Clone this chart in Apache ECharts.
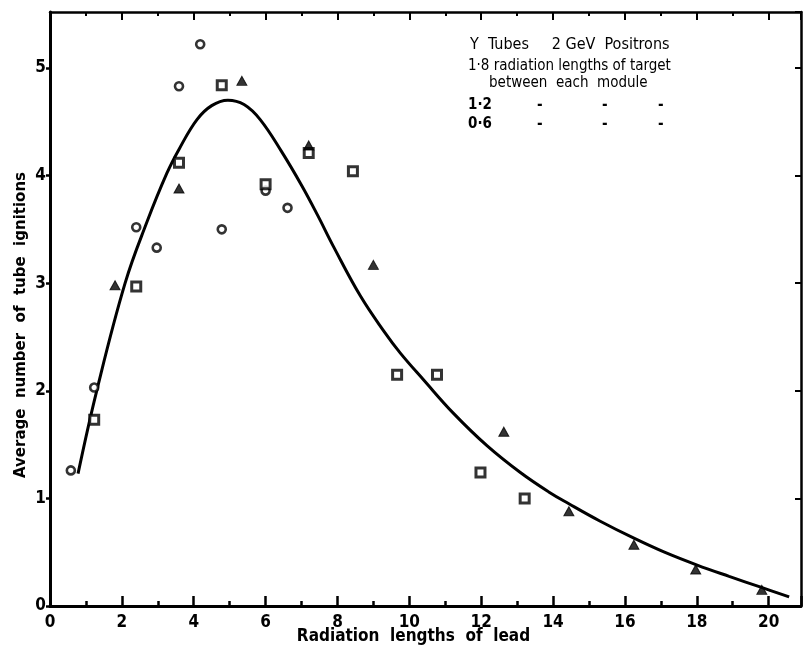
<!DOCTYPE html>
<html>
<head>
<meta charset="utf-8">
<script src="https://cdn.jsdelivr.net/npm/echarts@6/dist/echarts.min.js"></script>
<style>
  html, body { margin: 0; padding: 0; background: #fff; }
  #chart { width: 805px; height: 659px; }
</style>
</head>
<body>
<div id="chart"></div>
<script>
// Tube ignitions vs. lead depth for three target thicknesses between modules
const target18 = [ // 1·8 radiation lengths (circles)
  [0.58, 1.26], [1.23, 2.03], [2.40, 3.52], [2.97, 3.33], [3.59, 4.83],
  [4.18, 5.22], [4.78, 3.50], [6.00, 3.86], [6.61, 3.70]
];
const target12 = [ // 1·2 radiation lengths (squares)
  [1.23, 1.73], [2.40, 2.97], [3.59, 4.12], [4.78, 4.84], [6.00, 3.92],
  [7.20, 4.21], [8.43, 4.04], [9.66, 2.15], [10.77, 2.15], [11.98, 1.24],
  [13.21, 1.00]
];
const target06 = [ // 0·6 radiation lengths (triangles)
  [1.81, 2.98], [3.59, 3.88], [5.34, 4.88], [7.20, 4.28], [9.00, 3.17],
  [12.63, 1.62], [14.44, 0.88], [16.25, 0.57], [17.97, 0.34], [19.81, 0.15]
];
// Hand-fitted shower curve
const fitCurve = [
  [0.78, 1.23], [1.30, 2.00], [2.09, 3.00], [2.70, 3.57], [3.25, 4.02],
  [3.60, 4.25], [4.09, 4.52], [4.50, 4.65], [4.95, 4.70], [5.40, 4.66],
  [5.85, 4.52], [6.45, 4.22], [7.00, 3.91], [7.45, 3.63], [7.89, 3.34],
  [8.64, 2.88], [9.30, 2.55], [9.75, 2.35], [10.40, 2.10], [11.23, 1.79],
  [12.16, 1.49], [13.09, 1.24], [13.88, 1.06], [14.44, 0.95], [15.30, 0.79],
  [16.25, 0.63], [17.10, 0.50], [18.01, 0.38], [18.90, 0.275], [19.78, 0.175],
  [20.57, 0.085]
];
const xTicks = [0, 2, 4, 6, 8, 10, 12, 14, 16, 18, 20];
const yTicks = [0, 1, 2, 3, 4, 5];
const legendLines = [
  'Y  Tubes     2 GeV  Positrons',
  '1·8 radiation lengths of target',
  'between  each  module',
  '1·2',
  '0·6'
];

const COND = "'DejaVu Sans Condensed', 'DejaVu Sans', sans-serif";
const WIDE = "'DejaVu Sans', sans-serif";
const ink = '#000';

const chart = echarts.init(document.getElementById('chart'), null, { renderer: 'canvas' });

const labelStyle = { color: ink, fontFamily: COND, fontWeight: 'bold', fontSize: 17 };

const legendText = (text, left, top, font) => ({
  type: 'text', left, top,
  style: { text, fill: ink, font }
});

chart.setOption({
  animation: false,
  backgroundColor: '#fff',
  grid: { left: 50, right: 4, top: 12, bottom: 53, containLabel: false },
  xAxis: [
    {
      type: 'value', position: 'bottom', min: 0, max: 20.9, interval: 2,
      name: 'Radiation  lengths  of  lead', nameLocation: 'middle', nameGap: 22,
      nameMoveOverlap: false,
      nameTextStyle: { color: ink, fontFamily: COND, fontSize: 17, fontWeight: 'bold', padding: [0, 24, 0, 0] },
      axisLine: { show: true, lineStyle: { color: ink, width: 3 } },
      axisTick: { show: true, inside: true, length: 10, lineStyle: { color: ink, width: 2.5 } },
      minorTick: { show: true, splitNumber: 2, length: 5, lineStyle: { color: ink, width: 2.5 } },
      axisLabel: {
        ...labelStyle, margin: 8, showMaxLabel: false,
        formatter: v => (xTicks.includes(v) ? String(v) : '')
      },
      splitLine: { show: false }
    },
    {
      type: 'value', position: 'top', min: 0, max: 20.9, interval: 2,
      axisLine: { show: true, onZero: false, lineStyle: { color: ink, width: 2.5 } },
      axisTick: { show: true, inside: true, length: 8, lineStyle: { color: ink, width: 2 } },
      minorTick: { show: true, splitNumber: 2, length: 4, lineStyle: { color: ink, width: 2 } },
      axisLabel: { show: false },
      splitLine: { show: false }
    }
  ],
  yAxis: [
    {
      type: 'value', position: 'left', min: 0, max: 5.52, interval: 1,
      name: 'Average  number  of  tube  ignitions', nameLocation: 'middle', nameGap: 21,
      nameMoveOverlap: false,
      nameTextStyle: { color: ink, fontFamily: WIDE, fontSize: 15, fontWeight: 'bold', padding: [0, 32, 0, 0] },
      axisLine: { show: true, lineStyle: { color: ink, width: 3 } },
      axisTick: { show: true, inside: false, length: 4, lineStyle: { color: ink, width: 2.5 } },
      axisLabel: {
        ...labelStyle, margin: 4, showMaxLabel: false,
        formatter: v => (yTicks.includes(v) ? String(v) : '')
      },
      splitLine: { show: false }
    },
    {
      type: 'value', position: 'right', min: 0, max: 5.52, interval: 1,
      axisLine: { show: true, onZero: false, lineStyle: { color: ink, width: 2.5 } },
      axisTick: { show: true, inside: true, length: 6, lineStyle: { color: ink, width: 2 } },
      axisLabel: { show: false },
      splitLine: { show: false }
    }
  ],
  series: [
    {
      name: 'fit', type: 'line', data: fitCurve, smooth: 0.4,
      showSymbol: false, symbol: 'none',
      lineStyle: { color: ink, width: 3 }, z: 2
    },
    {
      name: '1·8', type: 'scatter', data: target18, symbol: 'circle', symbolSize: 8,
      itemStyle: { color: '#fff', borderColor: ink, borderWidth: 2.6 }, z: 3
    },
    {
      name: '1·2', type: 'scatter', data: target12, symbol: 'rect', symbolSize: 9,
      itemStyle: { color: '#fff', borderColor: ink, borderWidth: 3 }, z: 3
    },
    {
      name: '0·6', type: 'scatter', data: target06, symbol: 'triangle', symbolSize: [10, 9],
      itemStyle: { color: ink, borderColor: ink, borderWidth: 1 }, z: 3
    }
  ],
  graphic: [
    legendText(legendLines[0], 470, 37, '16px ' + COND),
    legendText(legendLines[1], 468, 59, '15px ' + COND),
    legendText(legendLines[2], 489, 76, '15px ' + COND),
    legendText(legendLines[3], 468, 98, 'bold 15px ' + COND),
    legendText(legendLines[4], 468, 117, 'bold 15px ' + COND),
    // ditto marks under the row above
    legendText('-', 537, 98, 'bold 15px ' + COND), legendText('-', 602, 98, 'bold 15px ' + COND),
    legendText('-', 658, 98, 'bold 15px ' + COND),
    legendText('-', 537, 117, 'bold 15px ' + COND), legendText('-', 602, 117, 'bold 15px ' + COND),
    legendText('-', 658, 117, 'bold 15px ' + COND)
  ]
});
</script>
</body>
</html>
